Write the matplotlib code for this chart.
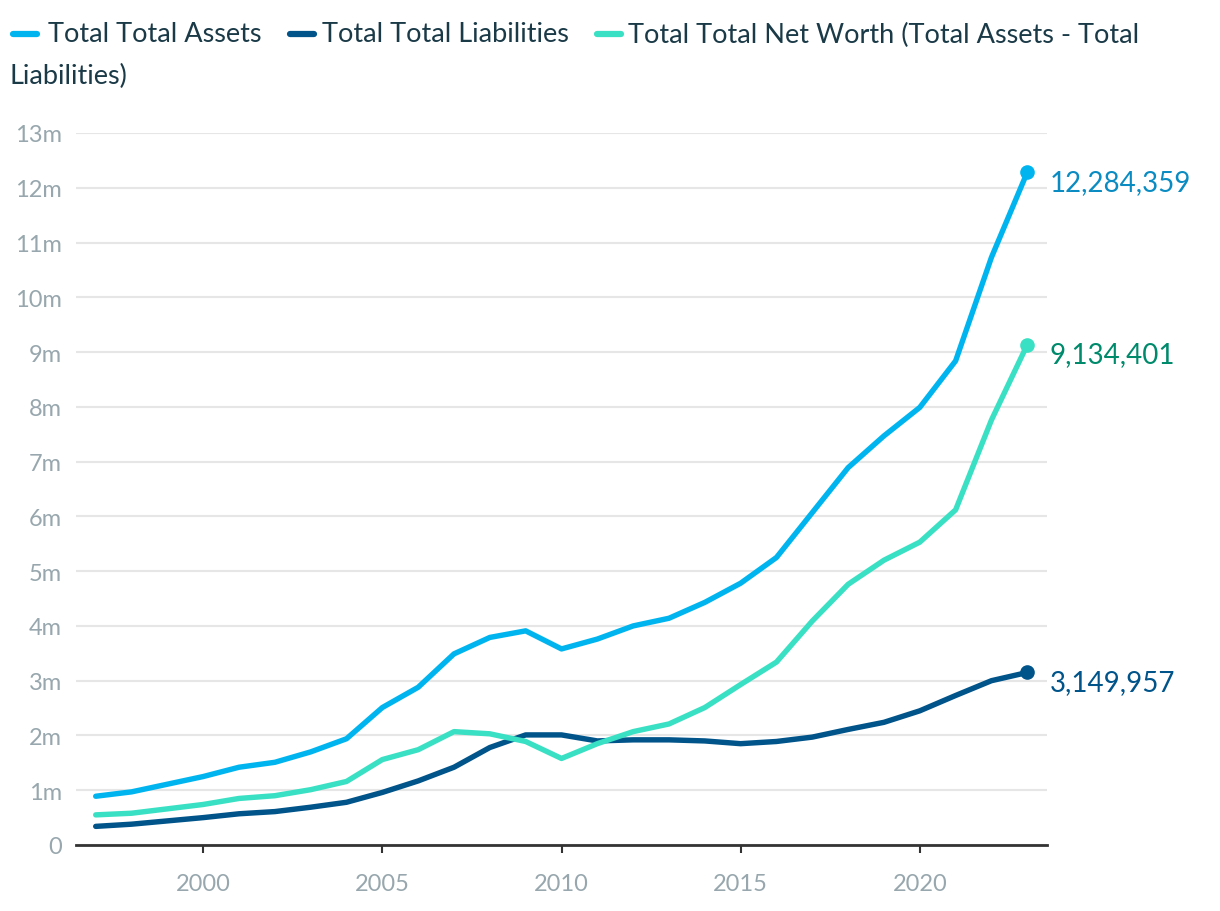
"""
Total assets / liabilities / net worth over time
"""

import matplotlib.pyplot as plt
from matplotlib.lines import Line2D
from matplotlib.ticker import FuncFormatter

plt.rcParams['font.family'] = ['Lato', 'DejaVu Sans']

years = list(range(1997, 2024))

# values in millions
assets = [0.89, 0.97, 1.11, 1.25, 1.42, 1.51, 1.70, 1.94, 2.51, 2.88,
          3.49, 3.79, 3.91, 3.58, 3.76, 4.00, 4.14, 4.43, 4.78, 5.25,
          6.07, 6.89, 7.47, 7.99, 8.84, 10.73, 12.284359]
liabilities = [0.34, 0.38, 0.44, 0.50, 0.57, 0.61, 0.69, 0.78, 0.96, 1.17,
               1.42, 1.78, 2.01, 2.01, 1.90, 1.92, 1.92, 1.90, 1.85, 1.89,
               1.97, 2.11, 2.24, 2.45, 2.73, 3.00, 3.149957]
net_worth = [0.55, 0.58, 0.66, 0.74, 0.85, 0.90, 1.01, 1.16, 1.56, 1.74,
             2.07, 2.03, 1.89, 1.58, 1.85, 2.07, 2.21, 2.51, 2.93, 3.34,
             4.09, 4.76, 5.20, 5.53, 6.12, 7.76, 9.134401]

series_names = ['Total Total Assets', 'Total Total Liabilities',
                'Total Total Net Worth (Total Assets - Total Liabilities)']
end_labels = ['12,284,359', '3,149,957', '9,134,401']

line_colors = ['#00b5ef', '#00548a', '#3ae0c3']
label_colors = ['#0a8cc2', '#00548a', '#008a6c']

W, H = 1220, 912
fig = plt.figure(figsize=(W / 100, H / 100), dpi=100)
ax = fig.add_axes([76 / W, 1 - 846 / H, (1047 - 76) / W, (846 - 134) / H])

for vals, col in zip([assets, liabilities, net_worth], line_colors):
    ax.plot(years, vals, color=col, linewidth=3.9, solid_capstyle='round',
            solid_joinstyle='round', zorder=3)
    ax.plot(years[-1], vals[-1], 'o', color=col, markersize=9.5, zorder=4,
            clip_on=False)

for vals, lab, col in zip([assets, liabilities, net_worth], end_labels, label_colors):
    ax.annotate(lab, (years[-1], vals[-1]), xytext=(16, -7),
                textcoords='offset points', va='center', ha='left',
                fontsize=20, color=col, annotation_clip=False)

ax.set_xlim(1996.45, 2023.55)
ax.set_ylim(0, 13)
ax.set_yticks(range(0, 14))
ax.yaxis.set_major_formatter(FuncFormatter(lambda v, p: '0' if v == 0 else f'{int(v)}m'))
ax.set_xticks([2000, 2005, 2010, 2015, 2020])

ax.grid(axis='y', color='#e6e6e6', linewidth=1.5)
ax.set_axisbelow(True)
for s in ['top', 'right', 'left']:
    ax.spines[s].set_visible(False)
ax.spines['bottom'].set_color('#333333')
ax.spines['bottom'].set_linewidth(2)
ax.spines['bottom'].set_zorder(5)

ax.tick_params(axis='y', length=0, pad=10, labelsize=17, labelcolor='#97a7ad')
ax.tick_params(axis='x', length=6, width=1.5, color='#333333', pad=14,
               labelsize=17, labelcolor='#97a7ad')

# legend drawn by hand so the last entry can wrap like the original
legend_y = 1 - 35 / H
handle_x = [13, 290, 597]
text_x = [48, 322, 628]
for hx, tx, name, col in zip(handle_x, text_x, series_names, line_colors):
    fig.add_artist(Line2D([hx / W, (hx + 24) / W], [legend_y, legend_y],
                          color=col, linewidth=4.5, solid_capstyle='round'))
    first = name
    if hx == handle_x[-1]:
        first = 'Total Total Net Worth (Total Assets - Total'
    fig.text(tx / W, legend_y, first, fontsize=19.5, color='#1b3a48',
             va='center', ha='left')
fig.text(10 / W, 1 - 76 / H, 'Liabilities)', fontsize=19.5, color='#1b3a48',
         va='center', ha='left')

fig.savefig('out.png', dpi=100)
